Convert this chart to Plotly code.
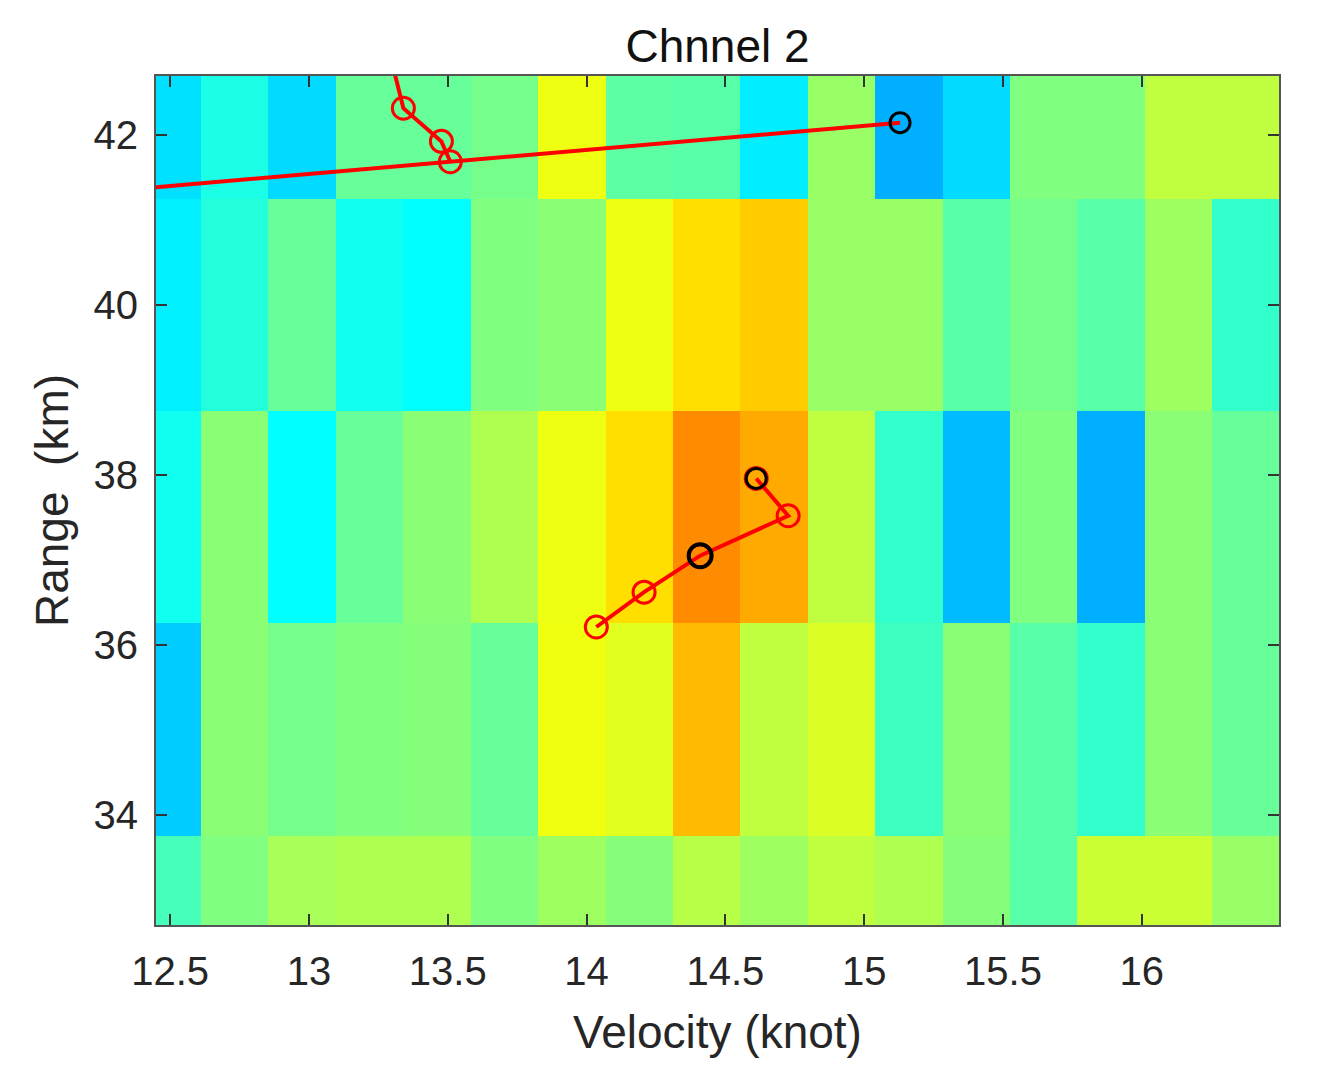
import plotly.graph_objects as go

# ---------------- data ----------------
velocity_centers = [12.490, 12.733, 12.976, 13.219, 13.462, 13.705, 13.947, 14.190,
                    14.433, 14.676, 14.919, 15.162, 15.405, 15.648, 15.890, 16.133, 16.376]
range_centers = [32.5, 35.0, 37.5, 40.0, 42.5]

# normalised intensity (jet colormap, 0..1), rows bottom -> top
row_32_5 = [0.443, 0.500, 0.540, 0.547, 0.547, 0.500, 0.530, 0.505, 0.555,
            0.530, 0.5625, 0.547, 0.505, 0.460, 0.575, 0.575, 0.525]
row_35_0 = [0.325, 0.510, 0.490, 0.500, 0.505, 0.475, 0.610, 0.595, 0.692,
            0.5625, 0.590, 0.435, 0.510, 0.460, 0.425, 0.510, 0.475]
row_37_5 = [0.390, 0.510, 0.375, 0.475, 0.510, 0.547, 0.608, 0.657, 0.7375,
            0.708, 0.5625, 0.425, 0.308, 0.500, 0.297, 0.510, 0.475]
row_40_0 = [0.360, 0.410, 0.475, 0.390, 0.375, 0.500, 0.510, 0.608, 0.657,
            0.675, 0.525, 0.525, 0.460, 0.490, 0.460, 0.530, 0.425]
row_42_5 = [0.345, 0.400, 0.340, 0.475, 0.475, 0.490, 0.608, 0.465, 0.460,
            0.358, 0.525, 0.297, 0.340, 0.500, 0.500, 0.5625, 0.5625]

# upper track (red circles; first point lies above the plotted range)
track_a_x = [13.25, 13.340, 13.477, 13.509]
track_a_y = [43.50, 42.320, 41.930, 41.690]
track_a_marked = [False, True, True, True]

# long line towards the black detection (starts left of the plotted range)
track_b_x = [11.800, 15.129]
track_b_y = [41.205, 42.150]

# lower track
track_c_x = [14.035, 14.207, 14.409, 14.726, 14.611]
track_c_y = [36.210, 36.620, 37.050, 37.520, 37.960]

# black detections
det_x = [15.129, 14.611]
det_y = [42.150, 37.960]
det_bold_x = [14.409]
det_bold_y = [37.050]

x_ticks = [12.5, 13, 13.5, 14, 14.5, 15, 15.5, 16]
y_ticks = [34, 36, 38, 40, 42]

# ---------------- figure ----------------
jet = [[0.0, 'rgb(0,0,128)'], [0.125, 'rgb(0,0,255)'], [0.375, 'rgb(0,255,255)'],
       [0.625, 'rgb(255,255,0)'], [0.875, 'rgb(255,0,0)'], [1.0, 'rgb(128,0,0)']]

font_family = "Liberation Sans, Arial, Helvetica, sans-serif"

fig = go.Figure()
fig.add_trace(go.Heatmap(
    x=velocity_centers, y=range_centers,
    z=[row_32_5, row_35_0, row_37_5, row_40_0, row_42_5],
    colorscale=jet, zmin=0, zmax=1, showscale=False, hoverinfo='skip'))

fig.add_trace(go.Scatter(
    x=track_b_x, y=track_b_y, mode='lines',
    line=dict(color='#ff0000', width=4), showlegend=False, hoverinfo='skip'))

ma_x = [x for x, m in zip(track_a_x, track_a_marked) if m]
ma_y = [y for y, m in zip(track_a_y, track_a_marked) if m]
fig.add_trace(go.Scatter(
    x=track_a_x, y=track_a_y, mode='lines',
    line=dict(color='#ff0000', width=4), showlegend=False, hoverinfo='skip'))
fig.add_trace(go.Scatter(
    x=ma_x, y=ma_y, mode='markers',
    marker=dict(symbol='circle-open', size=22, color='#ff0000', line=dict(width=3)),
    showlegend=False, hoverinfo='skip'))

fig.add_trace(go.Scatter(
    x=track_c_x, y=track_c_y, mode='lines+markers',
    line=dict(color='#ff0000', width=4),
    marker=dict(symbol='circle-open', size=22, color='#ff0000', line=dict(width=3)),
    showlegend=False, hoverinfo='skip'))

fig.add_trace(go.Scatter(
    x=det_x, y=det_y, mode='markers',
    marker=dict(symbol='circle-open', size=20, color='#000000', line=dict(width=3)),
    showlegend=False, hoverinfo='skip'))
fig.add_trace(go.Scatter(
    x=det_bold_x, y=det_bold_y, mode='markers',
    marker=dict(symbol='circle-open', size=23, color='#000000', line=dict(width=4)),
    showlegend=False, hoverinfo='skip'))

axis_common = dict(
    ticks='inside', ticklen=11, tickwidth=1.5, tickcolor='#333333',
    showline=True, linecolor='#555555', linewidth=2, mirror='ticks',
    showgrid=False, zeroline=False,
    tickfont=dict(family=font_family, size=40, color='#262626'),
)

fig.update_layout(
    width=1323, height=1078,
    margin=dict(l=148, r=52, t=68, b=161),
    paper_bgcolor='white', plot_bgcolor='white',
    title=dict(text='Chnnel 2', x=0.5, xref='paper', xanchor='center',
               y=1 - 37.5 / 1078, yanchor='middle', yref='container',
               font=dict(family=font_family, size=46, color='#111111')),
    xaxis=dict(range=[12.449, 16.494], tickvals=x_ticks,
               ticktext=[f'{v:g}' for v in x_ticks], ticklabelstandoff=10,
               title=dict(text='Velocity (knot)', standoff=24,
                          font=dict(family=font_family, size=46, color='#262626')),
               **axis_common),
    yaxis=dict(range=[32.70, 42.70], tickvals=y_ticks, ticklabelstandoff=8,
               title=dict(text='Range\u00a0 (km)', standoff=10,
                          font=dict(family=font_family, size=46, color='#262626')),
               **axis_common),
)

fig.write_html('out.html')
